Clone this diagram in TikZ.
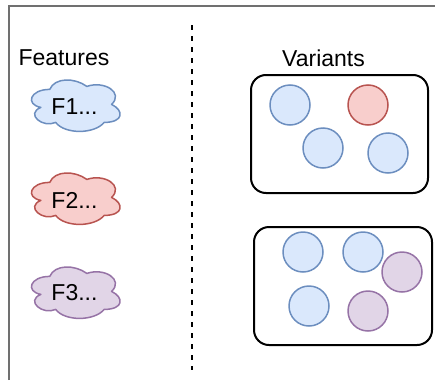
\documentclass[tikz,border=0pt]{standalone}
\usepackage{fontspec}
\setmainfont{Liberation Sans}
\definecolor{bfill}{HTML}{DAE8FC}
\definecolor{bline}{HTML}{6C8EBF}
\definecolor{rfill}{HTML}{F8CECC}
\definecolor{rline}{HTML}{B85450}
\definecolor{pfill}{HTML}{E1D5E7}
\definecolor{pline}{HTML}{9673A6}
\definecolor{framecol}{HTML}{707070}
\newcommand{\cloudpath}{(0.25,0.25) .. controls (0.05,0.25) and (0,0.5) .. (0.16,0.55)
  .. controls (0,0.66) and (0.18,0.9) .. (0.31,0.8)
  .. controls (0.4,1) and (0.7,1) .. (0.8,0.8)
  .. controls (1,0.8) and (1,0.6) .. (0.875,0.5)
  .. controls (1,0.3) and (0.8,0.1) .. (0.625,0.2)
  .. controls (0.5,0.05) and (0.3,0.05) .. (0.25,0.25) -- cycle}
\tikzset{
  lbl/.style={font=\fontsize{23}{27}\selectfont, inner sep=0pt},
  cloudline/.style={line width=1.5pt, line join=round},
  vbox/.style={draw=black, line width=2pt, rounded corners=15pt, rectangle, inner sep=0pt},
  dot/.style={circle, minimum size=40pt, inner sep=0pt, line width=1.5pt},
  bdot/.style={dot, draw=bline, fill=bfill},
  rdot/.style={dot, draw=rline, fill=rfill},
  pdot/.style={dot, draw=pline, fill=pfill},
}
\begin{document}
\begin{tikzpicture}[x=1pt,y=-1pt]
\useasboundingbox (0,0) rectangle (435,380);
\draw[framecol, line width=2pt] (8.5,380) -- (8.5,6) -- (435,6);
\draw[black, line width=2pt, dash pattern=on 5pt off 6pt] (192,25) -- (192,370);
\node[lbl] (features) at (64,58) {Features};
\node[lbl] (variants) at (323.5,58) {Variants};
% clouds
\begin{scope}[xshift=25pt, yshift=-74.4pt, x=99pt, y=-60pt]
  \draw[cloudline, draw=bline, fill=bfill] \cloudpath;
\end{scope}
\begin{scope}[xshift=25pt, yshift=-167.4pt, x=99pt, y=-60pt]
  \draw[cloudline, draw=rline, fill=rfill] \cloudpath;
\end{scope}
\begin{scope}[xshift=25pt, yshift=-261.4pt, x=99pt, y=-60pt]
  \draw[cloudline, draw=pline, fill=pfill] \cloudpath;
\end{scope}
\node[lbl] (f1) at (74.5,107) {F1...};
\node[lbl] (f2) at (74.5,200) {F2...};
\node[lbl] (f3) at (74.5,293) {F3...};
% variant boxes
\node[vbox, minimum width=177pt, minimum height=118pt] (box1) at (339.5,134) {};
\node[bdot] (v1a) at (290,105) {};
\node[rdot] (v1b) at (368,105) {};
\node[bdot] (v1c) at (323,148) {};
\node[bdot] (v1d) at (388,153) {};
\node[vbox, minimum width=178pt, minimum height=118pt] (box2) at (343,286) {};
\node[bdot] (v2a) at (303,252) {};
\node[bdot] (v2b) at (363,252) {};
\node[pdot] (v2c) at (402,272) {};
\node[bdot] (v2d) at (309,306) {};
\node[pdot] (v2e) at (368,311) {};
\end{tikzpicture}
\end{document}
